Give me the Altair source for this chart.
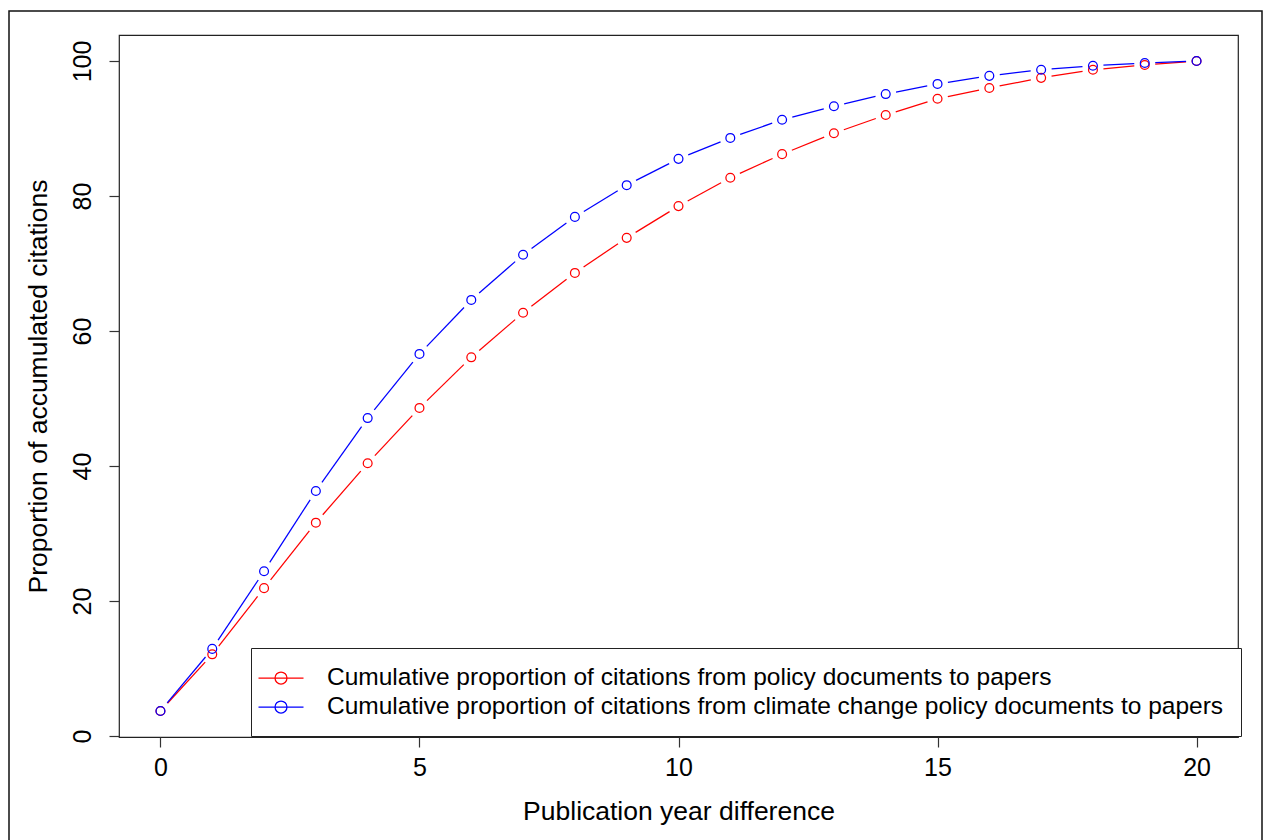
import altair as alt
import pandas as pd

# ---- data ----
years = list(range(21))
policy_all = [3.7, 12.1, 21.9, 31.6, 40.4, 48.6, 56.1, 62.7, 68.6, 73.8, 78.5,
              82.7, 86.2, 89.3, 92.0, 94.4, 96.0, 97.5, 98.7, 99.4, 100.0]
policy_climate = [3.7, 12.9, 24.4, 36.3, 47.1, 56.6, 64.6, 71.3, 76.9, 81.6, 85.5,
                  88.6, 91.3, 93.3, 95.1, 96.6, 97.8, 98.7, 99.3, 99.7, 100.0]
series_names = [
    "Cumulative proportion of citations from policy documents to papers",
    "Cumulative proportion of citations from climate change policy documents to papers",
]
series_colors = ["#FF0000", "#0000FF"]
x_ticks = [0, 5, 10, 15, 20]
y_ticks = [0, 20, 40, 60, 80, 100]

rows = []
for name, vals in zip(series_names, [policy_all, policy_climate]):
    for yr, v in zip(years, vals):
        rows.append({"year": yr, "value": v, "series": name})
df = pd.DataFrame(rows)

FONT = "Liberation Sans"
W, H = 1119, 702
X_DOM = [-0.8, 20.8]
Y_DOM = [-0.15, 103.85]
PX = W / (X_DOM[1] - X_DOM[0])   # pixels per year
PY = H / (Y_DOM[1] - Y_DOM[0])   # pixels per percent
GAP = 10.5                       # R type="b" gap around each point, px
SW = 1.25                        # stroke width of lines and circles

x_scale = alt.Scale(domain=X_DOM, nice=False, zero=False)
y_scale = alt.Scale(domain=Y_DOM, nice=False, zero=False)

x_axis = alt.Axis(values=x_ticks, title="Publication year difference",
                  grid=False, domain=False,
                  labelFontSize=25, titleFontSize=26.5, titleFontWeight="normal",
                  tickSize=10, labelPadding=8, titlePadding=18, format="d")
y_axis = alt.Axis(values=y_ticks, title="Proportion of accumulated citations",
                  grid=False, domain=False,
                  labelFontSize=25, titleFontSize=26.5, titleFontWeight="normal",
                  tickSize=10, labelAngle=270, labelAlign="center",
                  labelBaseline="bottom", labelPadding=14, titlePadding=18,
                  format="d")

color_enc = alt.Color(
    "series:N",
    scale=alt.Scale(domain=series_names, range=series_colors),
    sort=series_names,
    legend=alt.Legend(
        title=None, orient="none", legendX=132, legendY=613,
        strokeColor="#222", fillColor="white", padding=17,
        labelFontSize=24.5, labelFont=FONT, labelLimit=2000, labelColor="black",
        symbolType="M-1.875,0L1.875,0M0.5,0A0.5,0.5,0,1,1,-0.5,0A0.5,0.5,0,1,1,0.5,0",
        symbolSize=576, symbolStrokeWidth=SW, symbolFillColor="transparent",
        labelOffset=33, rowPadding=4,
    ),
)

base = alt.Chart(df)

# line segments between consecutive points, shortened at both ends (type="b")
segments = base.transform_window(
    next_year="lead(year)", next_value="lead(value)",
    groupby=["series"], sort=[alt.SortField("year")]
).transform_filter(
    "isValid(datum.next_year)"
).transform_calculate(
    dx="datum.next_year - datum.year",
    dy="datum.next_value - datum.value",
).transform_calculate(
    f=f"{GAP} / sqrt(pow(datum.dx * {PX}, 2) + pow(datum.dy * {PY}, 2))"
).transform_calculate(
    x1="datum.year + datum.dx * datum.f",
    y1="datum.value + datum.dy * datum.f",
    x2="datum.next_year - datum.dx * datum.f",
    y2="datum.next_value - datum.dy * datum.f",
).mark_rule(strokeWidth=SW).encode(
    x=alt.X("x1:Q", scale=x_scale, axis=x_axis),
    y=alt.Y("y1:Q", scale=y_scale, axis=y_axis),
    x2="x2:Q", y2="y2:Q",
    color=color_enc,
)

points = base.mark_point(shape="circle", filled=False, strokeWidth=SW, opacity=1).encode(
    x=alt.X("year:Q", scale=x_scale, axis=x_axis),
    y=alt.Y("value:Q", scale=y_scale, axis=y_axis),
    color=color_enc,
    size=alt.value(78),
)

frame = alt.Chart(pd.DataFrame({"k": [0]})).mark_rect(
    fill="transparent", stroke="#111", strokeWidth=1.5
).encode(x=alt.value(-110), x2=alt.value(1143), y=alt.value(-24), y2=alt.value(830))

chart = alt.layer(frame, segments, points).properties(
    width=W, height=H,
    padding={"left": 119, "top": 35, "right": 27, "bottom": 103},
    autosize=alt.AutoSizeParams(type="none"),
    background="white",
).configure_view(
    stroke="#222", strokeWidth=1.2
).configure_axis(
    domain=False, grid=False, tickColor="#333", tickWidth=1.2,
    labelFont=FONT, titleFont=FONT, labelColor="black", titleColor="black",
    titleFontWeight="normal",
)

chart.save("out.html", embed_options={"renderer": "svg", "actions": False})
